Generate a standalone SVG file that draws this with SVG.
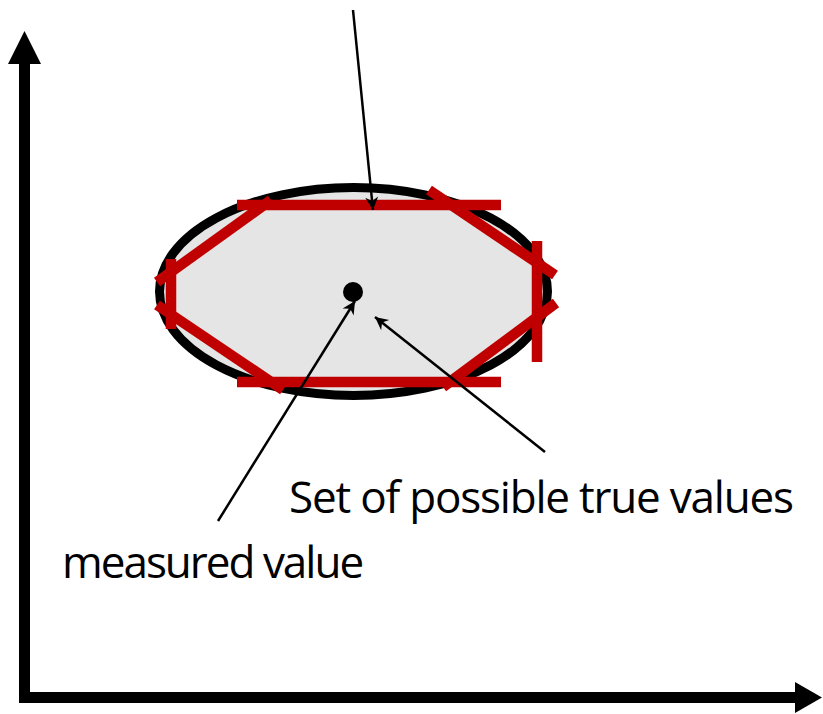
<svg xmlns="http://www.w3.org/2000/svg" width="823" height="714" viewBox="0 0 823 714">
  <style>
    .red { stroke: #c00000; stroke-width: 10.5; fill: none; }
    .thin { stroke: #000; stroke-width: 2.5; fill: none; marker-end: url(#ah); }
    .axis { stroke: #000; stroke-width: 11; fill: none; }
    .lbl { font-family: "Open Sans", "Noto Sans", sans-serif; font-size: 44px; fill: #000; }
  </style>
  <defs>
    <marker id="ah" viewBox="-14 -7 15 14" refX="0" refY="0" markerUnits="userSpaceOnUse" markerWidth="15" markerHeight="14" orient="auto">
      <path d="M0,0 L-13,-6.5 L-9,0 L-13,6.5 Z" fill="#000"/>
    </marker>
  </defs>
  <rect width="823" height="714" fill="#fff"/>

  <g id="axes">
    <path class="axis" d="M24.5,60 L24.5,697.5 L797,697.5" stroke-linejoin="miter"/>
    <polygon points="24.5,31 8,64 41,64" fill="#000"/>
    <polygon points="822,697.5 795,682 795,713" fill="#000"/>
  </g>

  <g id="ellipse">
    <ellipse cx="353.5" cy="291.5" rx="194" ry="104" fill="#e5e5e5" stroke="#000" stroke-width="9"/>
  </g>

  <g id="octagon">
    <line class="red" x1="237" y1="205" x2="501" y2="205"/>
    <line class="red" x1="237" y1="382" x2="501" y2="382"/>
    <line class="red" x1="171" y1="259" x2="171" y2="329"/>
    <line class="red" x1="537" y1="241" x2="537" y2="362"/>
    <line class="red" x1="157" y1="282" x2="271" y2="200"/>
    <line class="red" x1="429" y1="190" x2="555" y2="275"/>
    <line class="red" x1="157" y1="305" x2="283" y2="390"/>
    <line class="red" x1="556" y1="303" x2="443" y2="387"/>
  </g>

  <g id="measured-point">
    <circle cx="353" cy="292" r="10" fill="#000"/>
  </g>

  <g id="connectors">
    <line class="thin" x1="353" y1="10" x2="373" y2="210"/>
    <line class="thin" x1="218" y1="521" x2="355" y2="301"/>
    <line class="thin" x1="545" y1="452" x2="375" y2="317"/>
  </g>

  <g id="label-set">
    <text class="lbl" x="289" y="513" letter-spacing="-1.2">Set of possible true values</text>
  </g>
  <g id="label-measured">
    <text class="lbl" x="62" y="578" letter-spacing="-2">measured value</text>
  </g>
</svg>
